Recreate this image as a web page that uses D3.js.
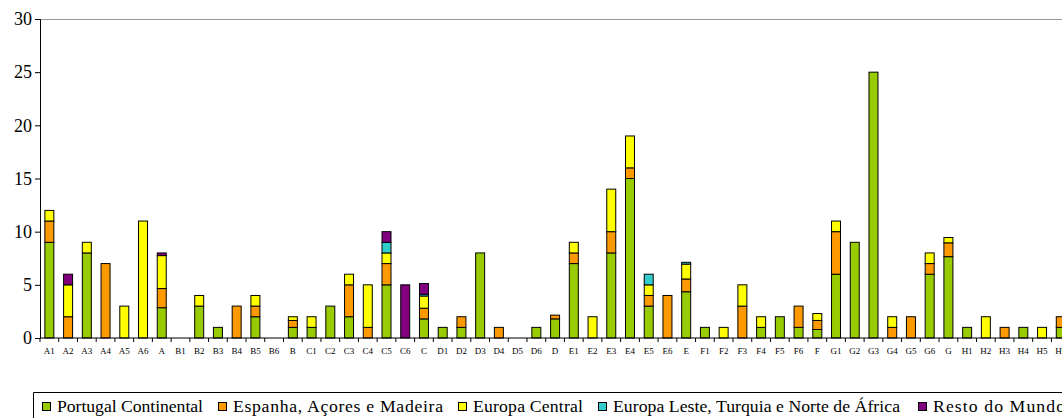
<!DOCTYPE html>
<html>
<head>
<meta charset="utf-8">
<script src="https://cdn.jsdelivr.net/npm/d3@7"></script>
</head>
<body style="margin:0;padding:0;background:#fff;overflow:hidden;">
<svg id="chart" width="1062" height="418" style="display:block"></svg>
<script>
// ---- data ----
const categories = ["A1","A2","A3","A4","A5","A6","A",
  "B1","B2","B3","B4","B5","B6","B",
  "C1","C2","C3","C4","C5","C6","C",
  "D1","D2","D3","D4","D5","D6","D",
  "E1","E2","E3","E4","E5","E6","E",
  "F1","F2","F3","F4","F5","F6","F",
  "G1","G2","G3","G4","G5","G6","G",
  "H1","H2","H3","H4","H5","H6","H"];

const seriesNames = ["Portugal Continental", "Espanha, Açores e Madeira", "Europa Central",
  "Europa Leste, Turquia e Norte de África", "Resto do Mundo"];
const seriesColors = ["#99cc00", "#ff9900", "#ffff00", "#33cccc", "#800080"];

const portugal = [9,0,8,0,0,0,2.85, 0,3,1,0,2,0,1, 1,3,2,0,5,0,1.8, 1,1,8,0,0,1,1.8,
  7,0,8,15,3,0,4.35, 1,0,0,1,2,1,0.8, 6,9,25,0,0,6,7.65, 1,0,0,1,0,1,0.5];
const espanha = [2,2,0,7,0,0,1.8, 0,0,0,3,1,0,0.65, 0,0,3,1,2,0,1.0, 0,1,0,1,0,0,0.35,
  1,0,2,1,1,4,1.2, 0,0,3,0,0,2,0.85, 4,0,0,1,2,1,1.3, 0,0,1,0,0,1,0.35];
const europaCentral = [1,3,1,0,3,11,3.1, 0,1,0,0,1,0,0.35, 1,0,1,4,1,0,1.15, 0,0,0,0,0,0,0,
  1,2,4,3,1,0,1.4, 0,1,2,1,0,0,0.65, 1,0,0,1,0,1,0.5, 0,2,0,0,1,0,0.5];
const europaLeste = [0,0,0,0,0,0,0, 0,0,0,0,0,0,0, 0,0,0,0,1,0,0.17, 0,0,0,0,0,0,0,
  0,0,0,0,1,0,0.17, 0,0,0,0,0,0,0, 0,0,0,0,0,0,0, 0,0,0,0,0,0,0];
const restoMundo = [0,1,0,0,0,0,0.25, 0,0,0,0,0,0,0, 0,0,0,0,1,5,1.0, 0,0,0,0,0,0,0,
  0,0,0,0,0,0,0, 0,0,0,0,0,0,0, 0,0,0,0,0,0,0, 0,0,0,0,0,0,0];

const yTicks = [0, 5, 10, 15, 20, 25, 30];

(function () {
const FONT = "Liberation Serif";
const svg = d3.select("#chart").attr("font-family", FONT);
const mLeft = 40, mTop = 19, mBottom = 338;
const step = 18.73;

const table = categories.map((c, i) => ({
  cat: c,
  s0: portugal[i], s1: espanha[i], s2: europaCentral[i], s3: europaLeste[i], s4: restoMundo[i]
}));
const keys = ["s0","s1","s2","s3","s4"];
const stacked = d3.stack().keys(keys)(table);

const x = d3.scaleBand().domain(categories)
  .range([mLeft, mLeft + step * categories.length])
  .paddingInner(0.52).paddingOuter(0.26);
const y = d3.scaleLinear().domain([0, 30]).range([mBottom, mTop]);

// top border line
svg.append("line")
  .attr("x1", mLeft).attr("x2", 1062).attr("y1", y(30) + 0.5).attr("y2", y(30) + 0.5)
  .attr("stroke", "#999").attr("stroke-width", 1);

// bars
stacked.forEach((layer, li) => {
  svg.append("g").selectAll("rect")
    .data(layer.filter(d => d[1] - d[0] > 0))
    .join("rect")
    .attr("x", d => x(d.data.cat))
    .attr("y", d => y(d[1]))
    .attr("width", x.bandwidth())
    .attr("height", d => y(d[0]) - y(d[1]))
    .attr("fill", seriesColors[li])
    .attr("stroke", "#000")
    .attr("stroke-width", 1);
});

// y axis
const yAxis = d3.axisLeft(y).tickValues(yTicks).tickSize(5).tickPadding(3);
const yg = svg.append("g").attr("transform", `translate(${mLeft},0)`).call(yAxis);
yg.attr("font-family", FONT).attr("font-size", 18);
yg.select(".domain").attr("stroke", "#000");
yg.selectAll("line").attr("stroke", "#000");
yg.selectAll("text").attr("fill", "#000");

// x axis
const xg = svg.append("g").attr("transform", `translate(0,${mBottom})`);
xg.append("line").attr("x1", mLeft).attr("x2", 1062).attr("y1", 0).attr("y2", 0).attr("stroke", "#000");
xg.selectAll("line.tick").data(categories).join("line")
  .attr("class", "tick")
  .attr("x1", d => x(d) - x.step() * x.paddingInner() / 2)
  .attr("x2", d => x(d) - x.step() * x.paddingInner() / 2)
  .attr("y1", 0).attr("y2", 4).attr("stroke", "#000");
xg.selectAll("text").data(categories).join("text")
  .attr("x", d => x(d) + x.bandwidth() / 2)
  .attr("y", 16)
  .attr("text-anchor", "middle")
  .attr("font-family", FONT)
  .attr("font-size", 9)
  .text(d => d);

// legend
const legendX = [42, 218, 458, 598, 918];
const legendW = [146, 210, 110, 287, 132];
const lg = svg.append("g");
lg.append("path").attr("d", `M1062,392.5H33.5V418`).attr("fill", "none").attr("stroke", "#000");
seriesNames.forEach((name, i) => {
  const lx = legendX[i];
  lg.append("rect").attr("x", lx + 0.5).attr("y", 402.5).attr("width", 8).attr("height", 8)
    .attr("fill", seriesColors[i]).attr("stroke", "#000");
  lg.append("text").attr("x", lx + 15).attr("y", 411.5)
    .attr("font-family", FONT).attr("font-size", 17.7)
    .attr("textLength", legendW[i]).attr("lengthAdjust", "spacing")
    .text(name);
});
})();
</script>
</body>
</html>
